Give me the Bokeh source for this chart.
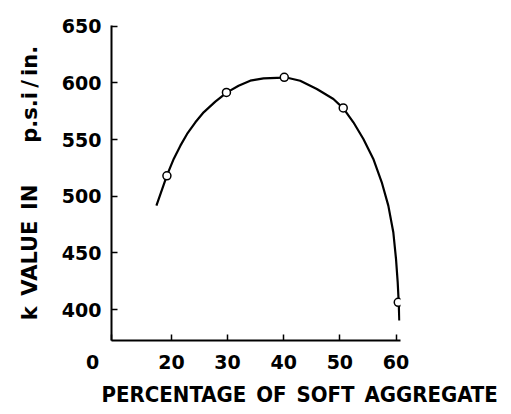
from bokeh.plotting import figure
from bokeh.models import Range1d, FixedTicker, Title
from bokeh.embed import file_html
from bokeh.resources import INLINE

# measured points
pt_x = [19.2, 29.8, 40.1, 50.6, 60.4]
pt_y = [518, 591.6, 604.9, 577.9, 406.4]

# traced curve
curve_x = [17.33, 19.24, 20.41, 21.6, 22.79, 24.27, 25.74, 27.82, 29.9, 31.96, 34.04, 36.41,
           39.96, 40.27, 42.93, 45.9, 48.85, 50.63, 52.41, 54.19, 55.96, 57.46, 58.63,
           59.52, 60.0, 60.3, 60.48, 60.59]
curve_y = [491.7, 518.8, 532.9, 544.6, 554.9, 565.2, 574.0, 583.4, 591.6, 597.5, 601.9, 604.0,
           604.6, 604.9, 601.9, 594.6, 585.8, 577.5, 565.2, 550.5, 532.9, 512.3, 491.7,
           468.2, 444.7, 424.1, 406.4, 390.3]

X_START = 9.33
x_ticks = [X_START, 20, 30, 40, 50, 60]
x_tick_labels = ["0\u2003\u2003", "20", "30", "40", "50", "60"]
y_ticks = [400, 450, 500, 550, 600, 650]

FONT = "DejaVu Sans"
SP = "\u2002"

W, H = 505, 410
p = figure(width=W, height=H, output_backend="svg", toolbar_location=None,
           x_range=Range1d(X_START, 60.8), y_range=Range1d(372.7, 650.6),
           min_border_left=111, min_border_right=W - 400, min_border_top=25, min_border_bottom=H - 340)
p.xgrid.visible = False
p.ygrid.visible = False
p.outline_line_color = None

for ax in (p.xaxis[0], p.yaxis[0]):
    ax.axis_line_width = 2
    ax.axis_line_color = "black"
    ax.major_tick_in = 6
    ax.major_tick_out = 0
    ax.major_tick_line_width = 1.5
    ax.minor_tick_line_color = None
    ax.major_label_text_font = FONT
    ax.major_label_text_font_style = "bold"
    ax.major_label_text_font_size = "19px"
    ax.major_label_text_color = "black"
    ax.major_label_standoff = 10

p.xaxis.ticker = FixedTicker(ticks=x_ticks)
p.xaxis.major_label_overrides = {t: l for t, l in zip(x_ticks, x_tick_labels)}
p.yaxis.ticker = FixedTicker(ticks=y_ticks)

p.yaxis.axis_label = "k\u2002VALUE\u2002IN\u2003\u2003p.s.i\u2009/\u2009in."
p.yaxis.axis_label_text_font = FONT
p.yaxis.axis_label_text_font_size = "21px"
p.yaxis.axis_label_text_font_style = "bold"
p.yaxis.axis_label_text_color = "black"
p.yaxis.axis_label_standoff = 17

p.line(curve_x, curve_y, line_color="black", line_width=2.2)
p.scatter(pt_x, pt_y, size=8, marker="circle", fill_color="white", line_color="black", line_width=1.5)

p.add_layout(Title(text=SP.join(["PERCENTAGE", "OF", "SOFT", "AGGREGATE"]), align="left", offset=-10, standoff=8,
                   text_font="DejaVu Sans Condensed", text_font_style="bold", text_font_size="22px",
                   text_color="black"), "below")

open("out.html", "w").write(file_html(p, INLINE))
